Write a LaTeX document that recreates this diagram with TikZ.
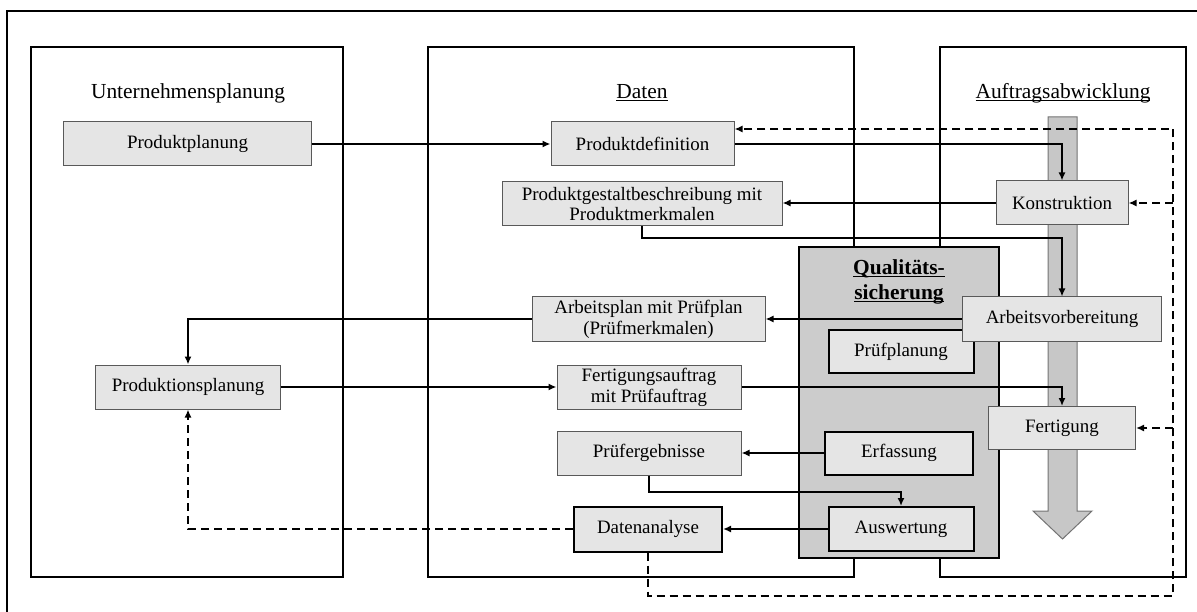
\documentclass[tikz,border=0pt]{standalone}
\usepackage{fontspec}
\setmainfont{Liberation Serif}
\usetikzlibrary{arrows.meta, calc}

\newcommand{\strichunter}[1]{\setbox0\hbox{#1}\leavevmode\rlap{\copy0}\rule[-2.5pt]{\wd0}{1.3pt}}

\begin{document}
\begin{tikzpicture}[
    x=1bp, y=-1bp,
    >={Latex[length=8bp,width=7bp]},
    line width=2bp,
    % Grosse Rahmen der drei Bereiche
    bereich/.style={
        draw,
        line width=2bp,
        inner sep=0pt
    },
    % Datenobjekte (hellgrau, duenner Rand)
    datenbox/.style={
        draw=black!65,
        line width=1bp,
        fill=black!10,
        inner sep=0pt,
        align=center,
        text=black,
        font=\fontsize{19}{21}\selectfont
    },
    % Aufgaben der Qualitaetssicherung (dicker Rand)
    qsbox/.style={
        datenbox,
        draw=black,
        line width=2bp
    },
    % Ueberschriften
    titel/.style={
        anchor=base,
        font=\fontsize{21.5}{25}\selectfont
    },
    fluss/.style={->, line width=2bp},
    rueckfluss/.style={->, line width=2bp, dash pattern=on 8bp off 5bp}
]
    \useasboundingbox (0,0) rectangle (1197,612);

    % ==========================================
    % RAHMEN UND BEREICHE
    % ==========================================
    \draw (7,11) rectangle (1215,630);

    \node[bereich, minimum width=312bp, minimum height=530bp] (unternehmen) at (187,312) {};
    \node[bereich, minimum width=426bp, minimum height=530bp] (daten) at (641,312) {};
    \node[bereich, minimum width=246bp, minimum height=530bp] (auftrag) at (1063,312) {};

    \node[titel] (titelunternehmen) at (188,99) {Unternehmensplanung};
    \node[titel] (titeldaten) at (642,99) {\strichunter{Daten}};
    \node[titel] (titelauftrag) at (1063,99) {\strichunter{Auftragsabwicklung}};

    % Qualitaetssicherung liegt ueber Daten und Auftragsabwicklung
    \node[bereich, fill=black!20, minimum width=200bp, minimum height=311bp] (qs) at (899,402.5) {};
    \node[font=\bfseries\fontsize{21.5}{25}\selectfont, align=center] (qstitel) at (899,282)
        {\strichunter{Qualitäts-}\\\strichunter{sicherung}};

    % Grosser Pfeil der Auftragsabwicklung
    \draw[draw=black!55, line width=1bp, fill=black!22]
        (1048,117) -- (1077,117) -- (1077,511) -- (1092,511)
        -- (1062.5,539) -- (1033,511) -- (1048,511) -- cycle;

    % ==========================================
    % KAESTEN
    % ==========================================
    \node[datenbox, minimum width=247bp, minimum height=44bp] (produktplanung) at (187.5,144) {Produktplanung};
    \node[datenbox, minimum width=184bp, minimum height=44bp] (produktionsplanung) at (188,387) {Produktionsplanung};

    \node[datenbox, minimum width=183bp, minimum height=44bp] (produktdefinition) at (642.5,144) {Produktdefinition};
    \node[datenbox, minimum width=280bp, minimum height=44bp] (gestalt) at (642,204) {Produktgestaltbeschreibung mit\\Produktmerkmalen};
    \node[datenbox, minimum width=233bp, minimum height=44bp] (arbeitsplan) at (648.5,319) {Arbeitsplan mit Prüfplan\\(Prüfmerkmalen)};
    \node[datenbox, minimum width=184bp, minimum height=44bp] (fertigungsauftrag) at (649,387) {Fertigungsauftrag\\mit Prüfauftrag};
    \node[datenbox, minimum width=184bp, minimum height=44bp] (pruefergebnisse) at (649,453) {Prüfergebnisse};
    \node[qsbox, minimum width=148bp, minimum height=45bp] (datenanalyse) at (648,529) {Datenanalyse};

    \node[qsbox, minimum width=145bp, minimum height=43bp] (pruefplanung) at (901,351.5) {Prüfplanung};
    \node[qsbox, minimum width=148bp, minimum height=43bp] (erfassung) at (899,453) {Erfassung};
    \node[qsbox, minimum width=145bp, minimum height=44bp] (auswertung) at (901,529) {Auswertung};

    \node[datenbox, minimum width=132bp, minimum height=44bp] (konstruktion) at (1062,203) {Konstruktion};
    \node[datenbox, minimum width=199bp, minimum height=44bp] (arbeitsvorbereitung) at (1062,319) {Arbeitsvorbereitung};
    \node[datenbox, minimum width=147bp, minimum height=43bp] (fertigung) at (1062,428) {Fertigung};

    % ==========================================
    % VERBINDUNGEN
    % ==========================================
    \draw[fluss] (produktplanung.east) -- (produktdefinition.west);
    \draw[fluss] (produktdefinition.east) -| (konstruktion.north);
    \draw[fluss] (konstruktion.west) -- (konstruktion.west -| gestalt.east);
    \draw[fluss] (gestalt.south) -- ++(0,12) -| (arbeitsvorbereitung.north);
    \draw[fluss] (arbeitsvorbereitung.west) -- (arbeitsvorbereitung.west -| arbeitsplan.east);
    \draw[fluss] (arbeitsplan.west) -| (produktionsplanung.north);
    \draw[fluss] (produktionsplanung.east) -- (fertigungsauftrag.west);
    \draw[fluss] (fertigungsauftrag.east) -| (fertigung.north);
    \draw[fluss] (erfassung.west) -- (erfassung.west -| pruefergebnisse.east);
    \draw[fluss] (pruefergebnisse.south) -- ++(0,16) -| (auswertung.north);
    \draw[fluss] (auswertung.west) -- (auswertung.west -| datenanalyse.east);

    % Rueckmeldungen (gestrichelt)
    \coordinate (rueckunten) at (1173,596);
    \coordinate (rueckoben) at (1173,129);
    \draw[rueckfluss] (datenanalyse.west) -| (produktionsplanung.south);
    \draw[rueckfluss] (datenanalyse.south) |- (rueckunten) -- (rueckoben) -- (rueckoben -| produktdefinition.east);
    \draw[rueckfluss] (rueckoben |- konstruktion.east) -- (konstruktion.east);
    \draw[rueckfluss] (rueckoben |- fertigung.east) -- (fertigung.east);

\end{tikzpicture}
\end{document}
